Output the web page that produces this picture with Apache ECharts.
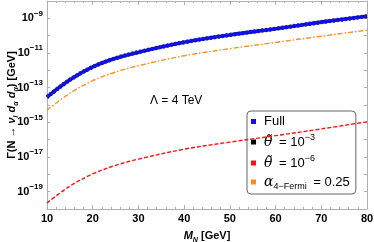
<!DOCTYPE html>
<html>
<head>
<meta charset="utf-8">
<script src="https://cdn.jsdelivr.net/npm/echarts@6/dist/echarts.min.js"></script>
<style>
html,body{margin:0;padding:0;background:#fff;}
#c{width:374px;height:242px;}
</style>
</head>
<body>
<div id="c"></div>
<script>
// Heavy neutral lepton mass M_N [GeV]
const massN = [10, 15, 20, 25, 30, 40, 50, 60, 70, 80];
// Decay widths [GeV]
const widthFull   = [2.88e-14, 2.82e-13, 1.58e-12, 5.0e-12, 1.12e-11, 4.17e-11, 1.10e-10, 2.51e-10, 6.03e-10, 1.32e-9];
const widthTheta3 = [2.88e-14, 2.82e-13, 1.58e-12, 5.0e-12, 1.12e-11, 4.17e-11, 1.10e-10, 2.51e-10, 6.03e-10, 1.32e-9];
const widthTheta6 = [2.24e-20, 2.09e-19, 1.05e-18, 3.31e-18, 7.59e-18, 2.82e-17, 7.24e-17, 1.70e-16, 4.17e-16, 1.07e-15];
const widthAlpha  = [5.0e-15, 4.79e-14, 2.51e-13, 7.94e-13, 1.86e-12, 6.92e-12, 1.78e-11, 4.07e-11, 9.33e-11, 2.09e-10];
const xTicks = [10, 20, 30, 40, 50, 60, 70, 80];
const yLabelExponents = [-9, -11, -13, -15, -17, -19];

const pairs = arr => massN.map((m, i) => [m, arr[i]]);
const FONT = '"Liberation Sans", Arial, sans-serif';
const frame = '#b0b0b0';

const chart = echarts.init(document.getElementById('c'), null, {renderer: 'canvas'});

const legendText = {
  Full: '{t|Full}',
  theta3: '{it|θ̃}{t| = 10}{sup|−3}',
  theta6: '{it|θ̃}{t| = 10}{sup|−6}',
  alpha: '{al|α}{sub|4−Fermi}{t| = 0.25}'
};

chart.setOption({
  animation: false,
  backgroundColor: '#fff',
  grid: {left: 47, right: 7, top: 1, bottom: 33, show: false, containLabel: false, outerBoundsMode: 'none'},
  xAxis: [{
    type: 'value', min: 10, max: 80, interval: 10,
    axisLine: {show: true, onZero: false, lineStyle: {color: frame, width: 1}},
    axisTick: {show: true, inside: true, length: 4, lineStyle: {color: frame}},
    minorTick: {show: true, splitNumber: 5, length: 2, lineStyle: {color: frame}},
    splitLine: {show: false},
    axisLabel: {
      color: '#000', fontFamily: FONT, fontWeight: 'bold', fontSize: 11, margin: 4,
      formatter: v => xTicks.includes(v) ? String(v) : ''
    },
    name: '{it|M}{sub|N}{t| [GeV]}',
    nameLocation: 'middle', nameGap: 19, nameMoveOverlap: false,
    nameTextStyle: {
      color: '#000', fontFamily: FONT,
      rich: {
        it: {fontStyle: 'italic', fontWeight: 'bold', fontSize: 11, fontFamily: FONT, lineHeight: 16, color: '#000'},
        sub: {fontStyle: 'italic', fontWeight: 'bold', fontSize: 7, fontFamily: FONT, verticalAlign: 'bottom', color: '#000'},
        t: {fontWeight: 'bold', fontSize: 11, fontFamily: FONT, lineHeight: 16, color: '#000'}
      }
    }
  }, {
    type: 'value', min: 10, max: 80, interval: 10, position: 'top',
    axisLine: {show: true, onZero: false, lineStyle: {color: frame, width: 1}},
    axisTick: {show: true, inside: true, length: 4, lineStyle: {color: frame}},
    minorTick: {show: true, splitNumber: 5, length: 2, lineStyle: {color: frame}},
    axisLabel: {show: false}, splitLine: {show: false}
  }],
  yAxis: [{
    type: 'log', logBase: 10, min: 1e-20, max: 1e-8, interval: 1,
    axisLine: {show: true, onZero: false, lineStyle: {color: frame, width: 1}},
    axisTick: {show: true, inside: true, length: 3, lineStyle: {color: frame}},
    splitLine: {show: false},
    axisLabel: {
      margin: 4,
      formatter: v => {
        const e = Math.round(Math.log10(v));
        if (!yLabelExponents.includes(e)) return '';
        return '{b|10}{s|−' + (-e) + '}';
      },
      rich: {
        b: {fontSize: 11, fontWeight: 'bold', fontFamily: FONT, lineHeight: 18, color: '#000'},
        s: {fontSize: 8, fontWeight: 'bold', fontFamily: FONT, verticalAlign: 'top', color: '#000'}
      }
    },
    name: '{t|Γ(N → }{it|ν}{sub|l}{t| }{it|d}{sub|α}{t| }{it|d}{sub|α}{t|) [GeV]}',
    nameLocation: 'middle', nameGap: 27, nameRotate: 90, nameMoveOverlap: false,
    nameTextStyle: {
      color: '#000',
      rich: {
        t: {fontWeight: 'bold', fontSize: 11, fontFamily: FONT, lineHeight: 16, color: '#000'},
        it: {fontWeight: 'bold', fontStyle: 'italic', fontSize: 11, fontFamily: FONT, lineHeight: 16, color: '#000'},
        sub: {fontWeight: 'bold', fontStyle: 'italic', fontSize: 7, fontFamily: FONT, verticalAlign: 'bottom', color: '#000'}
      }
    }
  }, {
    type: 'log', logBase: 10, min: 1e-20, max: 1e-8, interval: 1, position: 'right',
    axisLine: {show: true, onZero: false, lineStyle: {color: frame, width: 1}},
    axisTick: {show: true, inside: true, length: 3, lineStyle: {color: frame}},
    axisLabel: {show: false}, splitLine: {show: false}
  }],
  legend: {
    orient: 'vertical', left: 247, top: 111,
    data: ['Full', 'theta3', 'theta6', 'alpha'],
    icon: 'rect', itemWidth: 5, itemHeight: 5, itemGap: 5,
    padding: [4, 6, 3, 4],
    borderColor: '#666', borderWidth: 1, borderRadius: 4,
    backgroundColor: 'transparent',
    formatter: n => legendText[n],
    textStyle: {
      color: '#000', fontFamily: FONT, fontSize: 13,
      rich: {
        t: {fontSize: 13, fontFamily: FONT, lineHeight: 18, color: '#000', padding: [0, 0, 0, 3]},
        it: {fontSize: 14, fontStyle: 'italic', fontFamily: '"DejaVu Serif", serif', lineHeight: 18, color: '#000', padding: [0, 0, 0, 3]},
        al: {fontSize: 14, fontStyle: 'italic', fontFamily: '"DejaVu Serif", serif', lineHeight: 18, color: '#000', padding: [0, 0, 0, 3]},
        sup: {fontSize: 9, fontFamily: FONT, verticalAlign: 'top', color: '#000'},
        sub: {fontSize: 9, fontFamily: FONT, verticalAlign: 'bottom', color: '#000'}
      }
    },
    z: 1
  },
  graphic: [{
    type: 'text', left: 150, top: 95, z: 10,
    style: {text: 'Λ = 4 TeV', fontFamily: FONT, fontSize: 12, fill: '#000'}
  }],
  series: [{
    name: 'theta3', type: 'line', data: pairs(widthTheta3), smooth: 0.35, showSymbol: false,
    color: '#000', lineStyle: {color: '#222', width: 4.2, type: [2, 2]}, z: 3
  }, {
    name: 'Full', type: 'line', data: pairs(widthFull), smooth: 0.35, showSymbol: false,
    color: '#1010e0', lineStyle: {color: '#1010e0', width: 3.6}, z: 4
  }, {
    name: 'theta6', type: 'line', data: pairs(widthTheta6), smooth: 0.35, showSymbol: false,
    color: '#ff1010', lineStyle: {color: '#ff1010', width: 1.4, type: [4, 2]}, z: 5
  }, {
    name: 'alpha', type: 'line', data: pairs(widthAlpha), smooth: 0.35, showSymbol: false,
    color: '#ff8c1a', lineStyle: {color: '#ff8c1a', width: 1.4, type: [5, 2, 1.5, 2]}, z: 5
  }]
});
</script>
</body>
</html>
